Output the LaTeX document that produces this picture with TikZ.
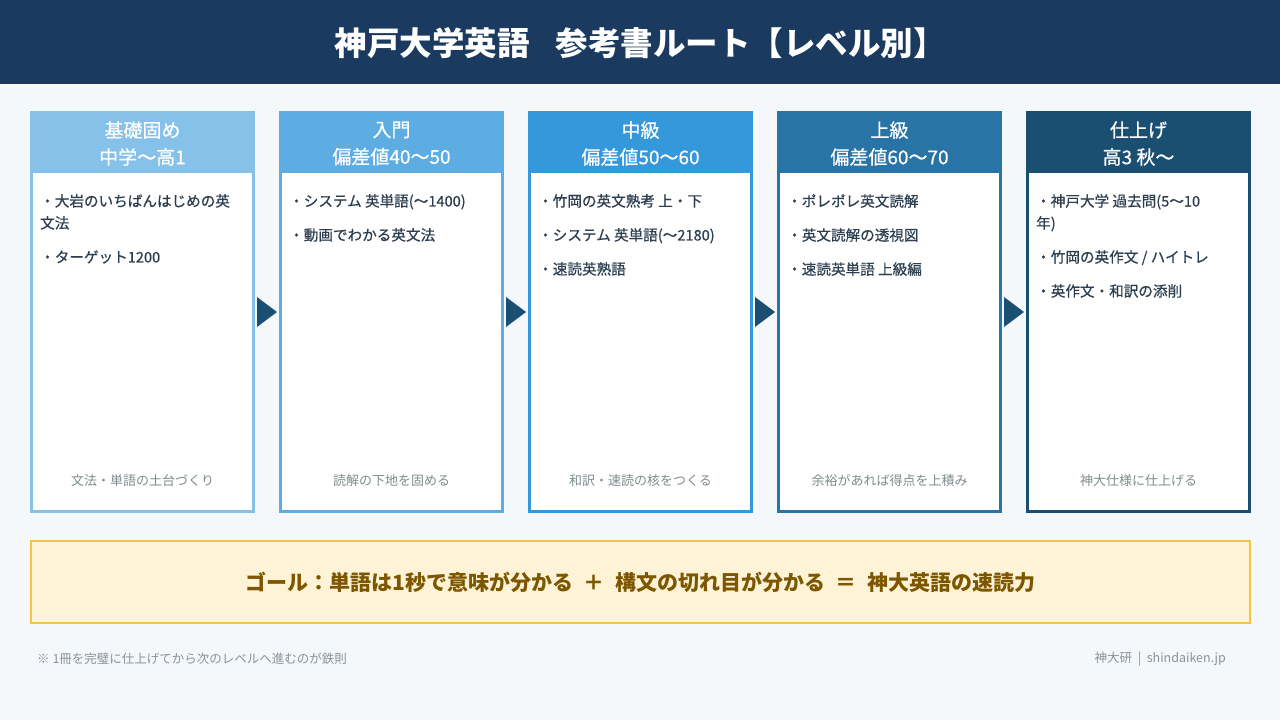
\documentclass[tikz,border=0pt]{standalone}
\usepackage{fontspec}
\setmainfont{Noto Sans CJK JP}
\newfontface\medfont{Noto Sans CJK JP}[FakeBold=0.6]
\usetikzlibrary{positioning,calc}
\definecolor{titlebg}{HTML}{1B3A5F}
\definecolor{pagebg}{HTML}{F4F8FB}
\definecolor{lvA}{HTML}{85C1E9}
\definecolor{lvB}{HTML}{5DADE2}
\definecolor{lvC}{HTML}{3498DB}
\definecolor{lvD}{HTML}{2874A6}
\definecolor{lvE}{HTML}{1B4F72}
\definecolor{itemtxt}{HTML}{2C3E50}
\definecolor{notetxt}{HTML}{7F8C8D}
\definecolor{goalbg}{HTML}{FEF3D6}
\definecolor{goalline}{HTML}{F4C542}
\definecolor{goaltxt}{HTML}{7D5700}
\definecolor{fntxt}{HTML}{8A929A}

\begin{document}
\begin{tikzpicture}[x=1pt,y=-1pt,
  lvbox/.style={draw=#1,line width=3pt,fill=white,minimum width=222pt,minimum height=399pt,inner sep=0pt},
  lvhead/.style={text=white,font=\medfont\fontsize{19}{27}\selectfont,align=center,inner sep=0pt},
  lvitems/.style={text=itemtxt,font=\medfont\fontsize{14.6}{22}\selectfont,align=left,anchor=north west,inner sep=0pt},
  lvnote/.style={text=notetxt,font=\fontsize{13}{16}\selectfont,inner sep=0pt},
  goalbox/.style={draw=goalline,line width=2pt,fill=goalbg,minimum width=1219pt,minimum height=82pt,text=goaltxt,font=\bfseries\fontsize{21}{24}\selectfont},
  fnote/.style={text=fntxt,font=\fontsize{12.5}{15}\selectfont,inner sep=0pt}]
\fill[pagebg] (0,0) rectangle (1280,720);
\useasboundingbox (0,0) rectangle (1280,720);
\fill[titlebg] (0,0) rectangle (1280,84);
\node[text=white,font=\bfseries\fontsize{32.5}{38}\selectfont] (title) at (640,43) {神戸大学英語\hspace{0.8em}参考書ルート【レベル別】};
\foreach \i/\cx/\col/\head/\items/\note in {
  1/142.5/lvA/{基礎固め\\中学〜高1}/{・大岩のいちばんはじめの英\\文法\\[12pt]・ターゲット1200}/{文法・単語の土台づくり},
  2/391.5/lvB/{入門\\偏差値40〜50}/{・システム 英単語(〜1400)\\[12pt]・動画でわかる英文法}/{読解の下地を固める},
  3/640.5/lvC/{中級\\偏差値50〜60}/{・竹岡の英文熟考 上・下\\[12pt]・システム 英単語(〜2180)\\[12pt]・速読英熟語}/{和訳・速読の核をつくる},
  4/889.5/lvD/{上級\\偏差値60〜70}/{・ポレポレ英文読解\\[12pt]・英文読解の透視図\\[12pt]・速読英単語 上級編}/{余裕があれば得点を上積み},
  5/1138.5/lvE/{仕上げ\\高3 秋〜}/{・神戸大学 過去問(5〜10\\年)\\[12pt]・竹岡の英作文 / ハイトレ\\[12pt]・英作文・和訳の添削}/{神大仕様に仕上げる}} {
  \node[lvbox=\col] (c\i) at (\cx,312) {};
  \fill[\col] (c\i.north west) rectangle ($(c\i.north east)+(0,62)$);
  \node[lvhead] (h\i) at ($(c\i.north)+(0,32.5)$) {\head};
  \node[lvitems] (t\i) at ($(c\i.north west)+(10,83)$) {\items};
  \node[lvnote] (n\i) at ($(c\i.south)+(0,-32)$) {\note};
}
\foreach \a in {1,...,4}
  \fill[lvE] ($(c\a.east)+(2,-15)$) -- ($(c\a.east)+(2,15)$) -- ($(c\a.east)+(22,0)$) -- cycle;
\node[goalbox] (goal) at (640.5,582) {ゴール：単語は1秒で意味が分かる\hspace{0.5em}＋\hspace{0.5em}構文の切れ目が分かる\hspace{0.5em}＝\hspace{0.5em}神大英語の速読力};
\node[fnote,anchor=west] (rule) at (37,659) {※ 1冊を完璧に仕上げてから次のレベルへ進むのが鉄則};
\node[fnote,anchor=east] (credit) at (1226,659) {神大研\hspace{0.45em}|\hspace{0.45em}shindaiken.jp};
\end{tikzpicture}
\end{document}
